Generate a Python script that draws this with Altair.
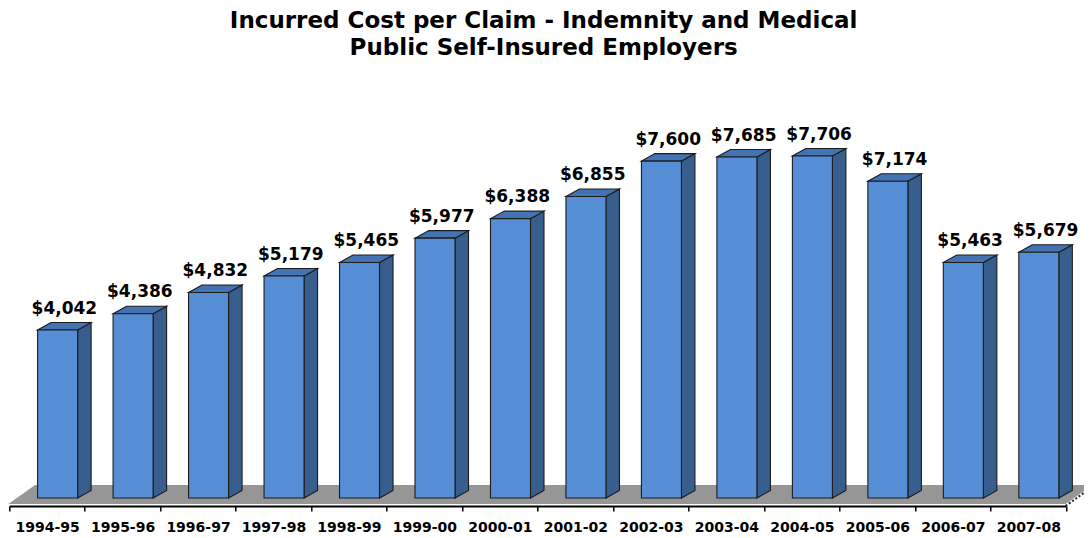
import altair as alt
import pandas as pd

# ---- data ----
years = ["1994-95", "1995-96", "1996-97", "1997-98", "1998-99", "1999-00", "2000-01",
         "2001-02", "2002-03", "2003-04", "2004-05", "2005-06", "2006-07", "2007-08"]
costs = [4042, 4386, 4832, 5179, 5465, 5977, 6388, 6855, 7600, 7685, 7706, 7174, 5463, 5679]

# ---- layout constants (scale units) ----
Y_MIN, Y_MAX = 337, 9097          # value domain of the plot area
BASE = 505                        # value where bar fronts stand on the floor
X_L, X_R = 0.375, 0.905           # front-face extent inside each category slot
DX, DY = 0.179, 158               # 3-D depth offset (x units, value units)
FLOOR_FRONT, FLOOR_BACK = 379, 779
FLOOR_DX = 0.355

FRONT = "#558ED5"
SIDE = "#385E8D"
TOP = "#4473B4"
EDGE = "#1c1c1c"
FONT = "DejaVu Sans"

n = len(years)
front_rows, side_rows, top_rows, label_rows = [], [], [], []
for i, (yr, v) in enumerate(zip(years, costs)):
    xl, xr = i + X_L, i + X_R
    front_rows.append({"cat": yr, "x": xl, "x2": xr, "y": v, "y2": BASE})
    side_rows.append({"cat": yr, "x": xr, "y": v, "y2": BASE})
    side_rows.append({"cat": yr, "x": xr + DX, "y": v + DY, "y2": BASE + DY})
    top_rows.append({"cat": yr, "y": v, "x": xl, "x2": xr})
    top_rows.append({"cat": yr, "y": v + DY, "x": xl + DX, "x2": xr + DX})
    label_rows.append({"cat": yr, "x": xl + (X_R - X_L + DX) / 2, "y": v + DY, "value": v})

front_df = pd.DataFrame(front_rows)
side_df = pd.DataFrame(side_rows)
top_df = pd.DataFrame(top_rows)
label_df = pd.DataFrame(label_rows)
floor_df = pd.DataFrame([
    {"k": "f", "y": FLOOR_FRONT, "x": -0.013, "x2": n - 0.005},
    {"k": "f", "y": FLOOR_BACK, "x": -0.013 + FLOOR_DX, "x2": n - 0.005 + FLOOR_DX},
])
floor_edge_df = pd.DataFrame([
    {"y": FLOOR_FRONT - 40, "x": n - 0.005},
    {"y": FLOOR_BACK - 40, "x": n - 0.005 + FLOOR_DX},
])

xscale = alt.Scale(domain=[0, n], nice=False, zero=False)
yscale = alt.Scale(domain=[Y_MIN, Y_MAX], nice=False, zero=False)

label_expr = "[" + ",".join("'" + y + "'" for y in years) + ",''][datum.value]"

x_axis = alt.Axis(values=list(range(n + 1)), labelExpr=label_expr, title=None, grid=False,
                  domainColor="#000000", domainWidth=2, tickColor="#000000", tickWidth=1.5,
                  tickSize=5, labelOffset=37.75, labelAlign="center", labelPadding=9,
                  labelFont=FONT, labelFontWeight="bold", labelFontSize=14,
                  labelColor="#000000", labelOverlap=False, labelFlush=False, labelBound=False)

floor = alt.Chart(floor_df).mark_area(orient="horizontal", color="#969696").encode(
    y=alt.Y("y:Q", scale=yscale, axis=None, stack=None),
    x=alt.X("x:Q", scale=xscale, axis=x_axis, stack=None),
    x2="x2:Q",
)

floor_edge = alt.Chart(floor_edge_df).mark_line(color="#222222", strokeWidth=2,
                                                strokeDash=[2, 2]).encode(
    x=alt.X("x:Q", scale=xscale),
    y=alt.Y("y:Q", scale=yscale),
)

side = alt.Chart(side_df).mark_area(orient="vertical", color=SIDE, stroke=EDGE,
                                     strokeWidth=1.1).encode(
    x=alt.X("x:Q", scale=xscale, stack=None),
    y=alt.Y("y:Q", scale=yscale, stack=None),
    y2="y2:Q",
    detail="cat:N",
)

top = alt.Chart(top_df).mark_area(orient="horizontal", color=TOP, stroke=EDGE,
                                   strokeWidth=1.1).encode(
    y=alt.Y("y:Q", scale=yscale, stack=None),
    x=alt.X("x:Q", scale=xscale, stack=None),
    x2="x2:Q",
    detail="cat:N",
)

front = alt.Chart(front_df).mark_rect(color=FRONT, stroke=EDGE, strokeWidth=1.1).encode(
    x=alt.X("x:Q", scale=xscale),
    x2="x2:Q",
    y=alt.Y("y:Q", scale=yscale),
    y2="y2:Q",
)

labels = alt.Chart(label_df).mark_text(font=FONT, fontWeight="bold", fontSize=17,
                                       baseline="bottom", align="center", dy=-5,
                                       color="#000000").encode(
    x=alt.X("x:Q", scale=xscale),
    y=alt.Y("y:Q", scale=yscale),
    text=alt.Text("value:Q", format="$,.0f"),
)

chart = alt.layer(floor, floor_edge, side, top, front, labels).properties(
    width=1056.7,
    height=416,
    title=alt.TitleParams(
        text=["Incurred Cost per Claim - Indemnity and Medical",
              "Public Self-Insured Employers"],
        font=FONT, fontSize=23, fontWeight="bold", color="#000000",
        anchor="middle", lineHeight=27, offset=30, dx=6,
    ),
    autosize=alt.AutoSizeParams(type="none"),
    padding={"left": 1.3, "top": 82, "right": 18, "bottom": 30},
).configure(background="#ffffff").configure_view(strokeWidth=0, stroke=None)

chart.save("out.html", embed_options={"renderer": "svg", "actions": False})
